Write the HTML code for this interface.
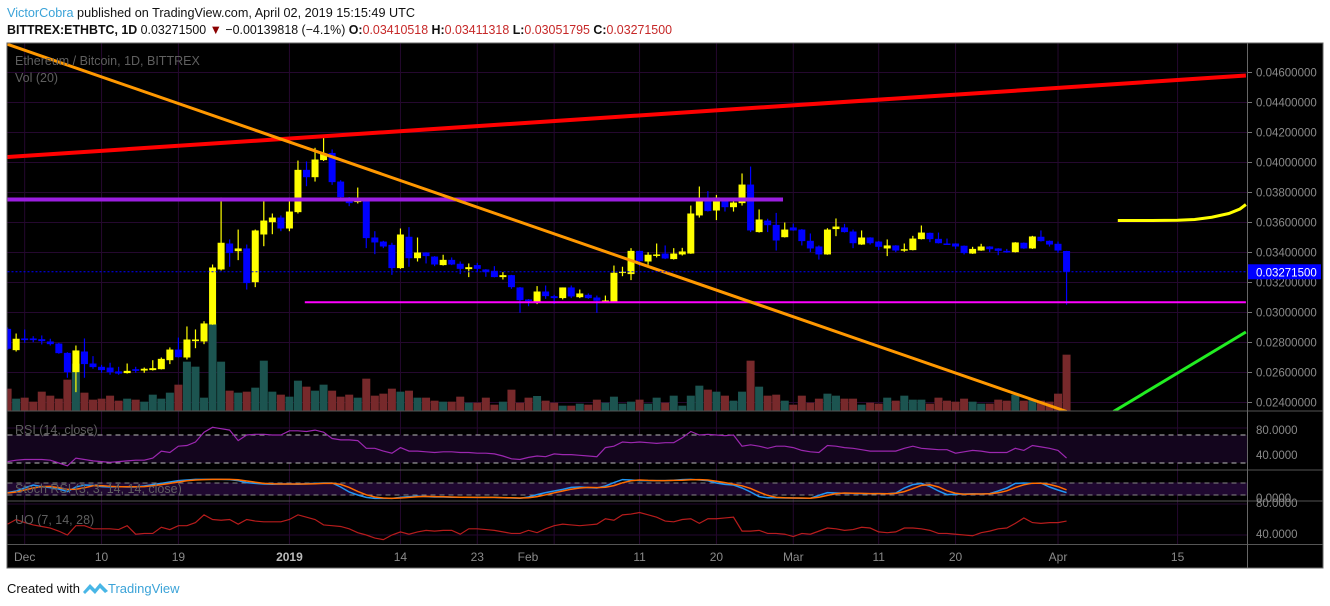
<!DOCTYPE html>
<html><head><meta charset="utf-8"><style>
html,body{margin:0;padding:0;background:#fff;width:1330px;height:606px;overflow:hidden}
svg{display:block}
text{font-family:"Liberation Sans",sans-serif}
</style></head><body>
<svg id="chart" width="1330" height="606" viewBox="0 0 1330 606" xmlns="http://www.w3.org/2000/svg">
<rect x="0" y="0" width="1330" height="606" fill="#fff"/>
<text x="7" y="17" font-size="13" textLength="408" lengthAdjust="spacingAndGlyphs"><tspan fill="#3ba3d8">VictorCobra</tspan><tspan fill="#111"> published on TradingView.com, April 02, 2019 15:15:49 UTC</tspan></text>
<text x="7" y="34" font-size="13" textLength="665" lengthAdjust="spacingAndGlyphs"><tspan fill="#111" font-weight="bold">BITTREX:ETHBTC, 1D</tspan><tspan fill="#111"> 0.03271500 </tspan><tspan fill="#8b0000">▼</tspan><tspan fill="#111"> −0.00139818 (−4.1%) </tspan><tspan fill="#111" font-weight="bold">O:</tspan><tspan fill="#c62828">0.03410518 </tspan><tspan fill="#111" font-weight="bold">H:</tspan><tspan fill="#c62828">0.03411318 </tspan><tspan fill="#111" font-weight="bold">L:</tspan><tspan fill="#c62828">0.03051795 </tspan><tspan fill="#111" font-weight="bold">C:</tspan><tspan fill="#c62828">0.03271500</tspan></text>
<rect x="7" y="43" width="1316" height="525" fill="#000" stroke="#666" stroke-width="1"/>
<defs><clipPath id="plotclip"><rect x="7.5" y="43.5" width="1239.5" height="367.5"/></clipPath></defs>
<g id="grid"></g><g id="vol" clip-path="url(#plotclip)"></g><g id="candles" clip-path="url(#plotclip)"></g><g id="draw" clip-path="url(#plotclip)"></g><g id="ind"></g><g id="axes"></g>
<text x="7" y="593" font-size="13" fill="#111">Created with</text>
<g>
<path d="M83 592 l7 -8 l5 5 l5 -6 l8 8 l-3 2 l-5 -5 l-5 6 l-5 -5 l-5 5z" fill="#48b6e6"/>
<text x="108" y="593" font-size="13" fill="#3ba3d8">TradingView</text>
</g>
</svg>
<script>
// OHLC in units of 1e-5 BTC, one per day starting Nov 29 2018
const openP=[2891,2749,2827,2827,2822,2807,2793,2731,2602,2740,2660,2638,2633,2607,2596,2622,2613,2616,2622,2682,2753,2700,2809,2807,2920,3287,3460,3409,3427,3202,3520,3602,3633,3560,3669,3951,3902,4016,4064,3873,3767,3736,3747,3500,3473,3451,3296,3505,3362,3400,3373,3316,3351,3325,3289,3316,3287,3278,3236,3249,3167,3087,3069,3140,3109,3096,3167,3102,3118,3100,3076,3073,3269,3256,3411,3340,3380,3393,3356,3387,3393,3647,3747,3680,3747,3702,3729,3853,3536,3613,3584,3502,3567,3553,3478,3440,3387,3556,3567,3540,3453,3500,3473,3427,3447,3416,3416,3489,3531,3491,3460,3460,3445,3393,3413,3440,3427,3411,3402,3465,3427,3505,3478,3458,3410];
const highP=[2900,2860,2887,2842,2847,2825,2798,2735,2780,2827,2709,2651,2665,2638,2660,2638,2633,2682,2700,2767,2833,2907,2887,2942,3320,3767,3487,3553,3453,3553,3747,3660,3647,3767,4013,4007,4098,4180,4087,3882,3770,3833,3750,3542,3478,3465,3560,3569,3500,3402,3376,3385,3367,3340,3327,3331,3289,3309,3269,3251,3170,3090,3176,3180,3118,3167,3180,3153,3127,3113,3113,3313,3305,3429,3413,3402,3460,3447,3429,3431,3713,3840,3809,3784,3762,3753,3927,3973,3687,3625,3664,3600,3593,3556,3527,3447,3562,3627,3591,3553,3547,3502,3476,3487,3449,3460,3511,3580,3533,3533,3493,3462,3447,3438,3458,3442,3429,3424,3469,3467,3511,3547,3480,3473,3411];
const lowP=[2750,2740,2798,2802,2787,2780,2725,2565,2469,2565,2625,2598,2585,2585,2593,2598,2598,2613,2620,2656,2700,2687,2762,2789,2918,3280,3305,3349,3153,3169,3442,3522,3542,3542,3660,3842,3873,4010,3851,3753,3709,3727,3429,3389,3429,3251,3291,3305,3340,3327,3309,3313,3316,3256,3236,3269,3238,3234,3220,3158,2998,3042,3056,3091,3056,3087,3096,3096,3091,2998,3073,3070,3242,3216,3309,3318,3367,3356,3353,3380,3391,3633,3673,3616,3673,3673,3713,3536,3533,3536,3413,3500,3545,3447,3402,3353,3385,3509,3533,3429,3451,3453,3416,3376,3402,3405,3414,3487,3469,3460,3453,3424,3387,3391,3411,3402,3382,3398,3400,3424,3424,3473,3440,3398,3052];
const closeP=[2758,2825,2816,2816,2809,2789,2729,2602,2747,2656,2636,2616,2602,2593,2611,2611,2625,2629,2691,2753,2702,2820,2820,2927,3300,3465,3396,3427,3196,3547,3613,3633,3560,3673,3951,3902,4020,4060,3869,3769,3729,3749,3496,3467,3440,3296,3520,3362,3400,3376,3320,3351,3320,3291,3302,3291,3269,3236,3249,3169,3082,3076,3140,3109,3096,3167,3107,3127,3096,3078,3080,3265,3273,3411,3342,3385,3387,3360,3393,3407,3660,3760,3676,3767,3702,3733,3853,3547,3620,3582,3480,3553,3547,3476,3427,3387,3553,3573,3536,3462,3500,3462,3438,3447,3413,3422,3493,3533,3489,3462,3456,3440,3396,3424,3440,3422,3411,3402,3467,3427,3507,3476,3453,3413,3272];
const volume=[67,37,40,28,58,46,37,94,142,55,34,37,46,31,37,34,28,49,37,55,79,148,133,40,262,148,61,55,58,70,151,58,49,43,91,73,61,79,61,43,49,40,97,46,52,67,58,61,40,40,31,28,28,43,25,25,40,19,28,64,25,40,45,31,25,16,16,22,19,34,25,43,22,28,34,22,40,25,46,16,46,76,64,58,46,31,58,151,73,46,49,31,19,46,25,37,52,46,37,37,19,25,22,40,31,46,34,34,22,40,31,28,37,28,22,22,34,31,49,31,34,31,28,52,169];
const rsi=[32,34,35,35,35,34,30,26,37,35,33,32,31,32,33,34,34,37,47,45,54,55,60,74,81,79,77,62,70,71,71,70,70,76,76,75,77,74,65,63,63,62,51,51,47,44,52,47,47,46,45,46,46,45,45,44,44,43,40,36,35,38,40,39,43,42,42,41,40,39,52,54,60,59,60,59,58,59,59,66,75,70,71,70,69,70,54,56,54,51,54,54,52,48,46,45,55,54,52,51,49,47,47,47,47,51,54,51,50,49,49,44,46,48,47,45,45,45,51,48,55,53,51,48,37];
const stochK=[32,40,55,70,62,57,50,37,60,70,68,62,60,62,60,60,65,72,78,85,92,95,98,98,98,98,97,92,82,78,75,74,75,75,74,76,78,80,80,60,35,20,8,3,3,3,8,12,14,12,10,10,9,9,8,8,8,8,6,5,4,10,22,32,40,48,58,60,57,55,65,82,97,95,92,92,92,92,94,97,98,95,92,80,73,70,55,35,12,6,6,5,5,4,4,18,32,30,28,28,27,26,27,26,30,55,72,78,62,40,22,24,25,26,25,27,40,55,78,80,78,80,60,45,32];
const stochD=[30,35,45,55,62,63,56,48,49,56,66,67,63,61,61,61,62,66,72,78,85,91,95,97,98,98,98,96,90,84,78,76,75,75,75,75,76,78,79,73,58,38,21,10,5,3,5,8,11,13,12,11,10,9,9,8,8,8,7,6,5,6,12,21,31,40,49,55,58,57,59,67,81,91,95,93,92,92,93,94,96,97,95,89,82,74,66,53,34,18,8,6,5,5,4,9,18,27,30,29,28,27,27,26,28,37,52,68,71,60,41,29,24,25,25,26,31,41,58,71,79,79,73,62,46];
const uo=[54,60,56,53,51,49,45,40,52,52,48,48,48,47,52,41,42,42,50,47,52,52,56,66,60,59,60,54,60,58,57,57,57,60,66,63,60,53,52,51,48,43,40,36,34,40,44,41,44,46,45,46,46,41,48,48,47,46,44,42,42,46,43,48,52,54,53,52,53,54,61,59,66,67,69,66,63,58,57,60,61,55,61,61,62,63,45,45,46,42,42,41,38,42,41,45,49,48,46,47,50,49,44,43,44,49,49,48,46,42,42,41,40,39,43,45,48,49,55,62,56,55,56,56,58];
const priceTicks=["0.02400000","0.02600000","0.02800000","0.03000000","0.03200000","0.03400000","0.03600000","0.03800000","0.04000000","0.04200000","0.04400000","0.04600000"];
const timeLabels=["Dec","10","19","2019","14","23","Feb","11","20","Mar","11","20","Apr","15"];
const timeLabelIdx=[2,11,20,33,46,55,64,74,83,92,102,111,123,137];

const NS="http://www.w3.org/2000/svg";
function mk(parent,tag,attrs){const e=document.createElementNS(NS,tag);for(const k in attrs)e.setAttribute(k,attrs[k]);parent.appendChild(e);return e;}
const X0=7.6,DX=8.54;
function xs(i){return X0+i*DX;}
function py(v){return 402.5-(v*1e-5-0.024)*15000;}
function pyP(p){return 402.5-(p-0.024)*15000;}
function vy(v){return 411-v/3;}
function rsiY(v){return 456-(v-40)*0.7;}
function stY(v){return 499-v*0.2;}
function uoY(v){return 535-(v-40)*0.775;}
const G=document.getElementById('grid'),V=document.getElementById('vol'),Cd=document.getElementById('candles'),D=document.getElementById('draw'),I=document.getElementById('ind'),A=document.getElementById('axes');
const PL=7.5,PR=1247;

priceTicks.forEach(t=>{const y=pyP(parseFloat(t));
 const l=mk(G,'line',{x1:PL,x2:PR,y1:y,y2:y,stroke:'#25082f','stroke-width':1});
 
 
 const tk=mk(A,'line',{x1:PR,x2:PR+5,y1:y,y2:y,stroke:'#777'});
 
 
 const tx=mk(A,'text',{x:1256,y:y+4,'font-size':11.5,fill:'#8a8a8a'});tx.textContent=t;
 
 
});
[rsiY(80),rsiY(40),stY(80),stY(20),uoY(80),uoY(40)].forEach(y=>{const l=mk(G,'line',{x1:PL,x2:PR,y1:y,y2:y,stroke:'#25082f'});
 
 });
timeLabelIdx.forEach((ix,k)=>{const x=xs(ix);
 const l=mk(G,'line',{x1:x,x2:x,y1:43.5,y2:545,stroke:'#25082f'});
 
 
 const lx=timeLabels[k]==='Feb'?528:x;
 const t=mk(A,'text',{x:lx,y:561,'font-size':12,fill:timeLabels[k]==='2019'?'#bbb':'#8a8a8a','text-anchor':'middle','font-weight':timeLabels[k]==='2019'?'bold':'normal'});t.textContent=timeLabels[k];
 
 
});
const rb=mk(G,'rect',{x:PL,y:rsiY(70),width:PR-PL,height:rsiY(30)-rsiY(70),fill:'#13051d'});


const sb=mk(G,'rect',{x:PL,y:stY(80),width:PR-PL,height:stY(20)-stY(80),fill:'#1f0830'});


[[rsiY(70),'#bbb'],[rsiY(30),'#bbb'],[stY(80),'#888'],[stY(20),'#888']].forEach(([y,c])=>{const l=mk(G,'line',{x1:PL,x2:PR,y1:y,y2:y,stroke:c,'stroke-dasharray':'5 4'});
 
 });

volume.forEach((v,i)=>{const up=closeP[i]>=openP[i];
 const r=mk(V,'rect',{x:xs(i)-4,y:vy(v),width:8,height:411-vy(v),fill:up?'#1c5450':'#77292b'});
 
 });
openP.forEach((o,i)=>{const c=closeP[i],up=c>=o,col=up?'#ffff00':'#0000ff',x=xs(i);
 const g=mk(Cd,'g',{});
 
 
 mk(g,'line',{x1:x,x2:x,y1:py(highP[i]),y2:py(lowP[i]),stroke:col,'stroke-width':1.2});
 const t=Math.min(py(o),py(c)),h=Math.max(1.5,Math.abs(py(o)-py(c)));
 mk(g,'rect',{x:x-3.5,y:t,width:7,height:h,fill:col});
});
function dl(name,pts,col,w){const p=mk(D,'polyline',{points:pts.map(q=>xs(q[0])+','+pyP(q[1])).join(' '),fill:'none',stroke:col,'stroke-width':w,'stroke-linecap':'butt'});
 
 }
dl('resistance-trendline-red',[[-0.1,0.04036],[145,0.04580]],'#ff0000',4);
dl('horizontal-level-purple',[[-0.1,0.03753],[90.8,0.03753]],'#9b1ee0',4);
dl('horizontal-level-magenta',[[34.8,0.03068],[145,0.03068]],'#ff00ff',2);
dl('downtrend-line-orange',[[-0.1,0.04790],[124,0.02340]],'#ff9800',3);
dl('uptrend-line-green',[[129.5,0.02340],[145,0.02870]],'#22ee22',3);
dl('projection-curve-yellow',[[130,0.03613],[134,0.03613],[137,0.03615],[139,0.0362],[141,0.03635],[143,0.03660],[144.3,0.03690],[145,0.03720]],'#ffff00',3);
const cl=mk(D,'line',{x1:PL,x2:PR,y1:pyP(0.032715),y2:pyP(0.032715),stroke:'#0000ff','stroke-dasharray':'2 2'});


function line(name,arr,fy,col,w){const p=mk(I,'polyline',{points:arr.map((v,i)=>xs(i)+','+fy(v)).join(' '),fill:'none',stroke:col,'stroke-width':w});
 
 }
line('rsi-line',rsi,rsiY,'#9c27b0',1.2);
line('stoch-k-line',stochK,stY,'#2196f3',1.5);
line('stoch-d-line',stochD,stY,'#ff6d00',1.5);
line('uo-line',uo,uoY,'#b71c1c',1.2);
[411,470,501,544.5].forEach(y=>{const l=mk(A,'line',{x1:7,x2:1323,y1:y,y2:y,stroke:'#555'});
 
 });
const ax=mk(A,'line',{x1:PR+0.5,x2:PR+0.5,y1:43,y2:568,stroke:'#666'});


[[434,'80.0000'],[459,'40.0000'],[502,'0.0000'],[507,'80.0000'],[538,'40.0000']].forEach(([y,t])=>{const tx=mk(A,'text',{x:1256,y:y,'font-size':11.5,fill:'#8a8a8a'});tx.textContent=t;
 
 });
[[15,65,'Ethereum / Bitcoin, 1D, BITTREX'],[15,82,'Vol (20)'],[15,434,'RSI (14, close)'],[15,493,'Stoch RSI (3, 3, 14, 14, close)'],[15,524,'UO (7, 14, 28)']].forEach(([x,y,t])=>{const tx=mk(A,'text',{x:x,y:y,'font-size':12.5,fill:'#5f5f5f'});tx.textContent=t;
 
 });
const by=pyP(0.032715);
const bg=mk(A,'rect',{x:PR+1,y:by-7.5,width:73,height:15,fill:'#0000ff'});


const bt=mk(A,'text',{x:1256,y:by+4.5,'font-size':11.5,fill:'#fff'});bt.textContent='0.03271500';


</script>
</body></html>
